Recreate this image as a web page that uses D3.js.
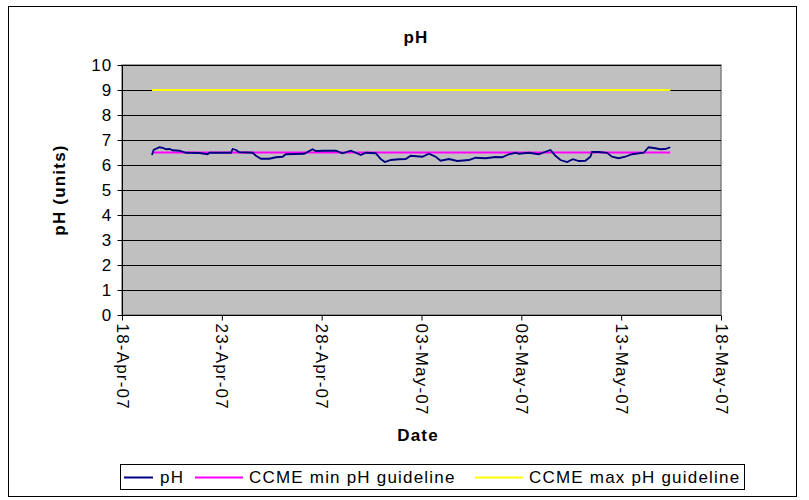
<!DOCTYPE html>
<html><head><meta charset="utf-8">
<script src="https://cdn.jsdelivr.net/npm/d3@7"></script>
<style>
body{margin:0;background:#fff;}
text{font-family:Arial,"Liberation Sans",sans-serif;}
</style></head>
<body><svg id="c" width="809" height="500"></svg>
<script>
const title = "pH";
const yTitle = "pH (units)";
const xTitle = "Date";
const yTicks = [0,1,2,3,4,5,6,7,8,9,10];
const xTickDates = ["2007-04-18","2007-04-23","2007-04-28","2007-05-03","2007-05-08","2007-05-13","2007-05-18"];
const seriesNames = ["pH","CCME min pH guideline","CCME max pH guideline"];
const seriesColors = ["#000080","#FF00FF","#FFFF00"];
const phDates = ["2007-04-19T12:00","2007-04-19T14:00","2007-04-19T21:00","2007-04-20T01:00","2007-04-20T05:00","2007-04-20T09:00","2007-04-20T13:00","2007-04-20T21:00","2007-04-21T05:00","2007-04-21T21:00","2007-04-22T07:00","2007-04-22T09:00","2007-04-23T11:00","2007-04-23T13:00","2007-04-23T17:00","2007-04-23T21:00","2007-04-24T13:00","2007-04-24T17:00","2007-04-24T23:00","2007-04-25T09:00","2007-04-25T17:00","2007-04-26T01:00","2007-04-26T05:00","2007-04-27T03:00","2007-04-27T13:00","2007-04-27T17:00","2007-04-28T03:00","2007-04-28T17:00","2007-04-29T01:00","2007-04-29T11:00","2007-04-29T17:00","2007-04-29T23:00","2007-04-30T05:00","2007-04-30T17:00","2007-04-30T23:00","2007-05-01T04:00","2007-05-01T11:00","2007-05-01T21:00","2007-05-02T05:00","2007-05-02T11:00","2007-05-03T01:00","2007-05-03T09:00","2007-05-03T17:00","2007-05-03T23:00","2007-05-04T09:00","2007-05-04T19:00","2007-05-05T09:00","2007-05-05T17:00","2007-05-06T05:00","2007-05-06T17:00","2007-05-07T01:00","2007-05-07T09:00","2007-05-07T17:00","2007-05-07T21:00","2007-05-08T09:00","2007-05-08T21:00","2007-05-09T05:00","2007-05-09T11:00","2007-05-09T17:00","2007-05-09T23:00","2007-05-10T07:00","2007-05-10T14:00","2007-05-10T21:00","2007-05-11T05:00","2007-05-11T11:00","2007-05-11T13:00","2007-05-11T21:00","2007-05-12T07:00","2007-05-12T13:00","2007-05-12T21:00","2007-05-13T05:00","2007-05-13T13:00","2007-05-14T03:00","2007-05-14T09:00","2007-05-14T17:00","2007-05-14T23:00","2007-05-15T05:00","2007-05-15T11:00"];
const phValues = [6.40,6.60,6.71,6.69,6.63,6.64,6.59,6.57,6.49,6.48,6.43,6.49,6.49,6.64,6.60,6.51,6.49,6.37,6.25,6.25,6.31,6.33,6.43,6.45,6.63,6.56,6.57,6.57,6.47,6.57,6.49,6.40,6.49,6.47,6.24,6.12,6.20,6.23,6.24,6.37,6.33,6.45,6.33,6.17,6.24,6.16,6.20,6.29,6.27,6.32,6.31,6.43,6.49,6.45,6.49,6.43,6.53,6.60,6.37,6.20,6.12,6.23,6.16,6.17,6.33,6.52,6.52,6.49,6.33,6.27,6.33,6.43,6.49,6.71,6.67,6.63,6.64,6.71];
const guideDates = ["2007-04-19T12:00","2007-05-15T11:00"];
const minGuide = [6.5,6.5];
const maxGuide = [9,9];

const parse = d3.timeParse("%Y-%m-%dT%H:%M");
const parseDay = d3.timeParse("%Y-%m-%d");
const svg = d3.select("#c");
const FS = 17, LS = "1.2px";

// outer chart border
svg.append("rect").attr("x",8.5).attr("y",6.5).attr("width",788).attr("height",490)
  .attr("fill","#fff").attr("stroke","#000").attr("stroke-width",1);

const L=122, R=721, T=65, B=315;
const x = d3.scaleTime().domain([parseDay(xTickDates[0]), parseDay(xTickDates[xTickDates.length-1])]).range([L,R]);
const y = d3.scaleLinear().domain([0,10]).range([B,T]);

// plot area
svg.append("rect").attr("x",L).attr("y",T).attr("width",R-L).attr("height",B-T)
  .attr("fill","#C0C0C0").attr("stroke","#808080").attr("stroke-width",1.5);

// gridlines
svg.append("g").selectAll("line").data(yTicks).join("line")
  .attr("x1",L).attr("x2",R).attr("y1",d=>Math.round(y(d))+0.5).attr("y2",d=>Math.round(y(d))+0.5)
  .attr("stroke","#000").attr("stroke-width",1);

// y axis
const yAx = svg.append("g").attr("transform",`translate(${L+0.5},0)`)
  .call(d3.axisLeft(y).tickValues(yTicks).tickSize(5).tickPadding(5).tickFormat(d3.format("d")));
yAx.select(".domain").attr("stroke","#000").attr("d",`M0,${T}V${B}`);
yAx.selectAll(".tick line").attr("stroke","#000");
yAx.selectAll("text").attr("font-size",FS).attr("fill","#000").attr("font-family","Arial, Liberation Sans, sans-serif")
  .attr("letter-spacing",LS);

// x axis
const xAx = svg.append("g").attr("transform",`translate(0,${B+0.5})`)
  .call(d3.axisBottom(x).tickValues(xTickDates.map(parseDay)).tickSize(5).tickFormat(d3.timeFormat("%d-%b-%y")));
xAx.select(".domain").attr("stroke","#000").attr("d",`M${L},0H${R}`);
xAx.selectAll(".tick line").attr("stroke","#000");
xAx.selectAll("text").attr("font-size",FS).attr("fill","#000").attr("font-family","Arial, Liberation Sans, sans-serif")
  .attr("letter-spacing",LS)
  .attr("transform","rotate(90)").attr("text-anchor","start").attr("x",8).attr("y",0).attr("dy","0.35em");

// lines
const line = d3.line().x(d=>x(d[0])).y(d=>y(d[1]));
const gd = guideDates.map(parse);
svg.append("path").datum(gd.map((d,i)=>[d,maxGuide[i]])).attr("d",line)
  .attr("fill","none").attr("stroke",seriesColors[2]).attr("stroke-width",2);
svg.append("path").datum(gd.map((d,i)=>[d,minGuide[i]])).attr("d",line)
  .attr("fill","none").attr("stroke",seriesColors[1]).attr("stroke-width",2);
svg.append("path").datum(phDates.map((d,i)=>[parse(d),phValues[i]])).attr("d",line)
  .attr("fill","none").attr("stroke",seriesColors[0]).attr("stroke-width",1.8);

// titles
svg.append("text").attr("x",416).attr("y",43).attr("text-anchor","middle")
  .attr("font-size",FS).attr("font-weight","bold").attr("letter-spacing",LS).text(title);
svg.append("text").attr("transform","translate(65,190) rotate(-90)").attr("text-anchor","middle")
  .attr("font-size",FS).attr("font-weight","bold").attr("letter-spacing",LS).text(yTitle);
svg.append("text").attr("x",418).attr("y",441).attr("text-anchor","middle")
  .attr("font-size",FS).attr("font-weight","bold").attr("letter-spacing",LS).text(xTitle);

// legend
const lg = svg.append("g");
lg.append("rect").attr("x",120.5).attr("y",464.5).attr("width",624).attr("height",25)
  .attr("fill","#fff").attr("stroke","#000").attr("stroke-width",1);
const legLineX = [[124,153],[195,243],[475,523]];
const legTextX = [160, 249, 529];
seriesNames.forEach((n,i)=>{
  lg.append("line").attr("x1",legLineX[i][0]).attr("x2",legLineX[i][1]).attr("y1",477.5).attr("y2",477.5)
    .attr("stroke",seriesColors[i]).attr("stroke-width",2);
  lg.append("text").attr("x",legTextX[i]).attr("y",483).attr("font-size",FS).attr("letter-spacing",LS)
    .attr("fill","#000").text(n);
});
</script></body></html>
